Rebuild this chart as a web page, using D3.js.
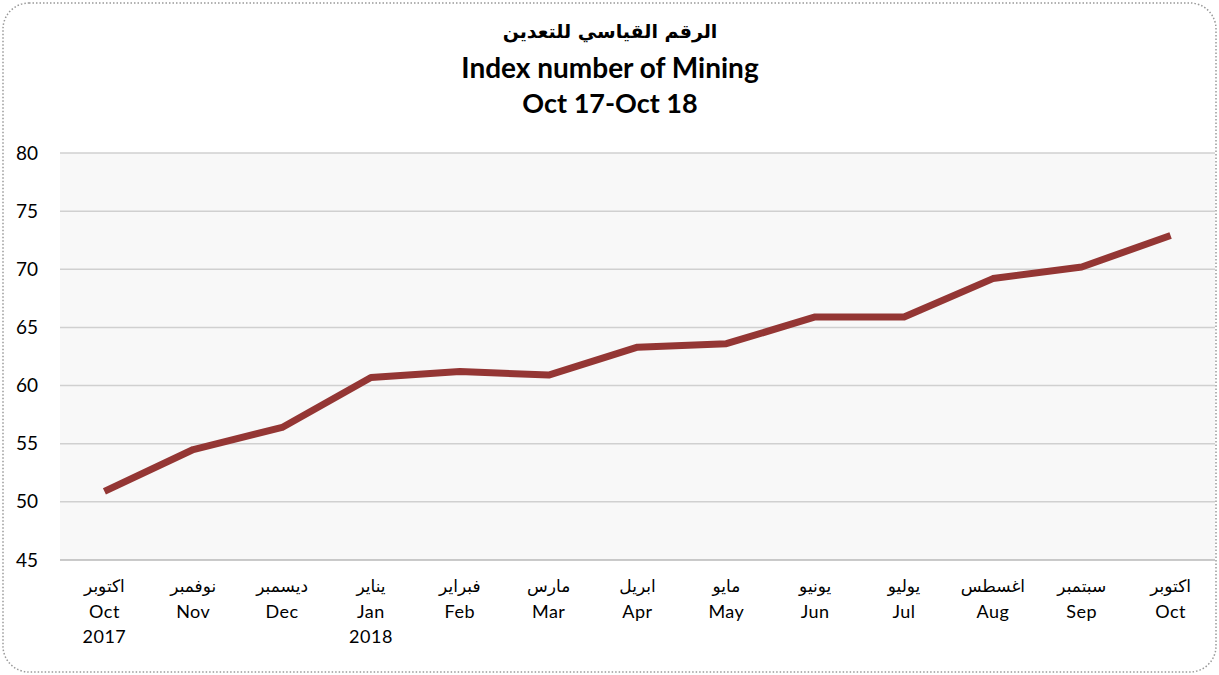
<!DOCTYPE html>
<html>
<head>
<meta charset="utf-8">
<script src="https://cdn.jsdelivr.net/npm/d3@7"></script>
<style>
  body { margin: 0; background: #fff; }
  svg { display: block; font-family: Lato, "DejaVu Sans", sans-serif; }
</style>
</head>
<body>
<div id="chart"></div>
<script>
var arabicMonths = ["اكتوبر", "نوفمبر", "ديسمبر", "يناير", "فبراير", "مارس", "ابريل", "مايو", "يونيو", "يوليو", "اغسطس", "سبتمبر", "اكتوبر"];
var months = ["Oct", "Nov", "Dec", "Jan", "Feb", "Mar", "Apr", "May", "Jun", "Jul", "Aug", "Sep", "Oct"];
var years = ["2017", "", "", "2018", "", "", "", "", "", "", "", "", ""];
var values = [50.9, 54.5, 56.4, 60.7, 61.2, 60.9, 63.3, 63.6, 65.9, 65.9, 69.2, 70.2, 72.9];
var yTicks = [45, 50, 55, 60, 65, 70, 75, 80];
var titles = ["الرقم القياسي للتعدين", "Index number of Mining", "Oct 17-Oct 18"];

var width = 1219, height = 675;
var margin = { top: 153, right: 4, bottom: 115, left: 60 };
var innerW = width - margin.left - margin.right,
  innerH = height - margin.top - margin.bottom;

var svg = d3.select("#chart").append("svg")
  .attr("width", width)
  .attr("height", height);

// dotted rounded frame
svg.append("rect")
  .attr("x", 3).attr("y", 3)
  .attr("width", width - 6).attr("height", height - 6)
  .attr("rx", 26).attr("ry", 26)
  .attr("fill", "none")
  .attr("stroke", "#999")
  .attr("stroke-width", 1.5)
  .attr("stroke-dasharray", "1.5,2");

// titles
svg.selectAll("text.title")
  .data(titles)
  .enter().append("text")
  .attr("class", "title")
  .attr("x", 610)
  .attr("y", function(d, i) { return [38, 78, 113][i]; })
  .attr("text-anchor", "middle")
  .attr("font-weight", "bold")
  .attr("font-size", function(d, i) { return ["19px", "28px", "27px"][i]; })
  .attr("font-family", function(d, i) { return i === 0 ? "'DejaVu Sans', sans-serif" : "Lato, sans-serif"; })
  .attr("fill", "#000")
  .text(function(d) { return d; });

var g = svg.append("g")
  .attr("transform", "translate(" + margin.left + "," + margin.top + ")");

var x = d3.scaleBand()
  .domain(d3.range(values.length))
  .range([0, innerW]);

var y = d3.scaleLinear()
  .domain([45, 80])
  .range([innerH, 0]);

g.append("rect")
  .attr("width", innerW).attr("height", innerH)
  .attr("fill", "#f8f8f8");

// gridlines
g.selectAll("line.grid")
  .data(yTicks.slice(1))
  .enter().append("line")
  .attr("class", "grid")
  .attr("x1", 0).attr("x2", innerW)
  .attr("y1", function(d) { return y(d); })
  .attr("y2", function(d) { return y(d); })
  .attr("stroke", "#d0d0d0")
  .attr("stroke-width", 1.5);

// baseline
g.append("line")
  .attr("x1", 0).attr("x2", innerW)
  .attr("y1", innerH).attr("y2", innerH)
  .attr("stroke", "#b8b8b8")
  .attr("stroke-width", 1.5);

// y axis labels
var yAxis = d3.axisLeft(y).tickValues(yTicks).tickSize(0).tickPadding(22);
g.append("g")
  .call(yAxis)
  .call(function(s) { s.select(".domain").remove(); })
  .selectAll("text")
  .attr("font-size", "19px")
  .attr("font-family", "Lato, sans-serif")
  .attr("fill", "#000");

// x labels
var xl = g.append("g")
  .attr("transform", "translate(0," + innerH + ")");
var lbl = xl.selectAll("g.lbl")
  .data(months)
  .enter().append("g")
  .attr("class", "lbl")
  .attr("transform", function(d, i) { return "translate(" + (x(i) + x.bandwidth() / 2) + ",0)"; });
lbl.append("text")
  .attr("y", 32)
  .attr("text-anchor", "middle")
  .attr("font-size", "17px")
  .attr("font-family", "'DejaVu Sans', sans-serif")
  .text(function(d, i) { return arabicMonths[i]; });
lbl.append("text")
  .attr("y", 58)
  .attr("text-anchor", "middle")
  .attr("font-size", "18px")
  .attr("font-family", "Lato, sans-serif")
  .attr("letter-spacing", "0.5px")
  .text(function(d) { return d; });
lbl.append("text")
  .attr("y", 83)
  .attr("text-anchor", "middle")
  .attr("font-size", "18px")
  .attr("font-family", "Lato, sans-serif")
  .attr("letter-spacing", "0.5px")
  .text(function(d, i) { return years[i]; });

// the line
var line = d3.line()
  .x(function(d, i) { return x(i) + x.bandwidth() / 2; })
  .y(function(d) { return y(d); });

g.append("path")
  .datum(values)
  .attr("d", line)
  .attr("fill", "none")
  .attr("stroke", "#943634")
  .attr("stroke-width", 7)
  .attr("stroke-linejoin", "round");
</script>
</body>
</html>
